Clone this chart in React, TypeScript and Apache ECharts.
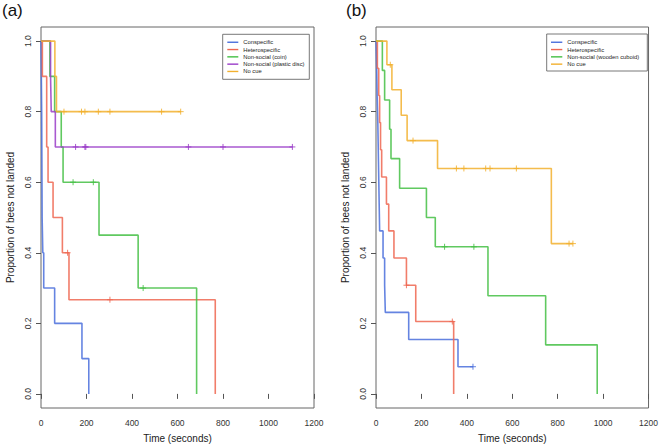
import React, { useEffect, useRef } from "react";
import * as echarts from "echarts";

// ---------- data ----------
const timeTicks = [0, 200, 400, 600, 800, 1000, 1200];
const proportionTicks = [0, 0.2, 0.4, 0.6, 0.8, 1.0];

const groupsA = ["Conspecific", "Heterospecific", "Non-social (coin)", "Non-social (plastic disc)", "No cue"];
const groupsB = ["Conspecific", "Heterospecific", "Non-social (wooden cuboid)", "No cue"];

// Kaplan-Meier steps: [time (s), proportion not landed after that time]
const aConspecific = [[0, 1], [3, 0.8], [5, 0.5], [8, 0.4], [12, 0.3], [60, 0.2], [180, 0.1], [210, 0]];
const aHeterospecific = [[0, 1], [6, 0.9], [25, 0.7], [31, 0.6], [53, 0.5], [94, 0.4], [123, 0.267], [766, 0]];
const aCoin = [[0, 1], [39, 0.9], [60, 0.8], [89, 0.7], [97, 0.6], [255, 0.45], [427, 0.3], [684, 0]];
const aDisc = [[0, 1], [42, 0.9], [45, 0.8], [63, 0.7], [1105, 0.7]];
const aNoCue = [[0, 1], [61, 0.9], [68, 0.8], [614, 0.8]];

const aConspecificCensored: number[] = [];
const aHeterospecificCensored = [117, 303];
const aCoinCensored = [141, 230, 449];
const aDiscCensored = [152, 193, 197, 648, 800, 1105];
const aNoCueCensored = [101, 178, 193, 252, 303, 530, 614];

const bConspecific = [[0, 1], [3, 0.923], [5, 0.846], [8, 0.769], [10, 0.692], [12, 0.615], [14, 0.538], [16, 0.462], [31, 0.385], [38, 0.308], [41, 0.231], [144, 0.154], [361, 0.077], [427, 0.077]];
const bHeterospecific = [[0, 1], [6, 0.923], [12, 0.846], [16, 0.769], [20, 0.692], [25, 0.615], [46, 0.538], [56, 0.462], [79, 0.385], [134, 0.308], [175, 0.205], [342, 0]];
const bCuboid = [[0, 1], [28, 0.917], [38, 0.833], [60, 0.75], [66, 0.667], [104, 0.583], [222, 0.5], [261, 0.417], [493, 0.278], [747, 0.139], [974, 0]];
const bNoCue = [[0, 1], [48, 0.933], [70, 0.862], [111, 0.79], [137, 0.718], [271, 0.639], [772, 0.426], [867, 0.426]];

const bConspecificCensored = [427];
const bHeterospecificCensored = [134, 336];
const bCuboidCensored = [302, 431];
const bNoCueCensored = [63, 163, 354, 387, 483, 502, 618, 850, 867];

// ---------- styles ----------
const COLORS: Record<string, string> = {
  "Conspecific": "#4a6fdc",
  "Heterospecific": "#ee6650",
  "Non-social (coin)": "#44c044",
  "Non-social (plastic disc)": "#9a3cc8",
  "Non-social (wooden cuboid)": "#44c044",
  "No cue": "#f2b02e",
};
const FONT = "Liberation Sans, Arial, Helvetica, sans-serif";

function levelAt(curve: number[][], t: number): number {
  let v = curve[0][1];
  for (const p of curve) {
    if (p[0] <= t) v = p[1];
  }
  return v;
}

function curveSeries(name: string, curve: number[][], censored: number[], idx: number) {
  const color = COLORS[name];
  return [
    {
      type: "line",
      name,
      data: curve,
      step: "end",
      xAxisIndex: idx,
      yAxisIndex: idx,
      showSymbol: false,
      symbol: "none",
      silent: true,
      lineStyle: { color, width: 1.6, opacity: 0.85 },
      itemStyle: { color },
    },
    {
      type: "scatter",
      name: name + " (censored) " + idx,
      data: censored.map((t) => [t, levelAt(curve, t)]),
      xAxisIndex: idx,
      yAxisIndex: idx,
      symbol: "path://M5 0L5 10M0 5L10 5",
      symbolSize: 6,
      silent: true,
      itemStyle: { color: "transparent", borderColor: color, borderWidth: 1, opacity: 0.85 },
    },
  ];
}

function xAxis(idx: number) {
  return {
    type: "value",
    gridIndex: idx,
    min: timeTicks[0],
    max: timeTicks[timeTicks.length - 1],
    interval: timeTicks[1] - timeTicks[0],
    name: "Time (seconds)",
    nameLocation: "middle",
    nameGap: 25,
    nameTextStyle: { fontFamily: FONT, fontSize: 10, color: "#222" },
    axisLine: { show: false },
    axisTick: { show: true, length: 5, lineStyle: { color: "#555" } },
    axisLabel: {
      fontFamily: FONT,
      fontSize: 8.5,
      color: "#333",
      margin: 10,
      showMinLabel: true,
      showMaxLabel: true,
      formatter: (v: number) => String(v),
    },
    splitLine: { show: false },
  };
}

function yAxis(idx: number) {
  return {
    type: "value",
    gridIndex: idx,
    min: -0.04,
    max: 1.04,
    name: "Proportion of bees not landed",
    nameLocation: "middle",
    nameRotate: 90,
    nameGap: 26,
    nameTextStyle: { fontFamily: FONT, fontSize: 10, color: "#222" },
    axisLine: { show: false },
    axisTick: { show: true, length: 5, lineStyle: { color: "#555" }, customValues: proportionTicks },
    axisLabel: {
      fontFamily: FONT,
      fontSize: 8.5,
      color: "#333",
      margin: 9,
      rotate: 90,
      customValues: proportionTicks,
      formatter: (v: number) => v.toFixed(1),
    },
    splitLine: { show: false },
  };
}

function legend(left: number, names: string[], itemWidth: number) {
  return {
    show: true,
    orient: "vertical",
    left,
    top: 38.6,
    padding: 0,
    itemGap: 0,
    itemWidth,
    itemHeight: 1.4,
    icon: "rect",
    selectedMode: false,
    data: names,
    textStyle: { fontFamily: FONT, fontSize: 5.8, lineHeight: 7.3, color: "#222", padding: 0 },
  };
}

export default function App() {
  const ref = useRef<HTMLDivElement>(null);

  useEffect(() => {
    if (!ref.current) return;
    const chart = echarts.init(ref.current, undefined, { renderer: "svg" });

    const curvesA: [string, number[][], number[]][] = [
      [groupsA[0], aConspecific, aConspecificCensored],
      [groupsA[1], aHeterospecific, aHeterospecificCensored],
      [groupsA[2], aCoin, aCoinCensored],
      [groupsA[3], aDisc, aDiscCensored],
      [groupsA[4], aNoCue, aNoCueCensored],
    ];
    const curvesB: [string, number[][], number[]][] = [
      [groupsB[0], bConspecific, bConspecificCensored],
      [groupsB[1], bHeterospecific, bHeterospecificCensored],
      [groupsB[2], bCuboid, bCuboidCensored],
      [groupsB[3], bNoCue, bNoCueCensored],
    ];

    const series: any[] = [];
    curvesA.forEach(([n, c, cz]) => series.push(...curveSeries(n, c, cz, 0)));
    curvesB.forEach(([n, c, cz]) => series.push(...curveSeries(n, c, cz, 1)));

    const gridStyle = { show: true, borderColor: "#666", borderWidth: 1, backgroundColor: "transparent" };

    chart.setOption({
      animation: false,
      backgroundColor: "#ffffff",
      grid: [
        { left: 41, top: 27, width: 273, height: 383, ...gridStyle },
        { left: 376, top: 27, width: 273, height: 383, ...gridStyle },
      ],
      xAxis: [xAxis(0), xAxis(1)],
      yAxis: [yAxis(0), yAxis(1)],
      legend: [legend(227.3, groupsA, 11), legend(551, groupsB, 11.3)],
      graphic: [
        { type: "text", left: 2, top: 2, style: { text: "(a)", fontFamily: FONT, fontSize: 17, fill: "#111" } },
        { type: "text", left: 346, top: 2, style: { text: "(b)", fontFamily: FONT, fontSize: 17, fill: "#111" } },
        { type: "rect", shape: { x: 222.7, y: 34.3, width: 86.6, height: 45 }, style: { fill: "transparent", stroke: "#555", lineWidth: 0.8 }, silent: true },
        { type: "rect", shape: { x: 546.7, y: 34, width: 100.6, height: 37 }, style: { fill: "transparent", stroke: "#555", lineWidth: 0.8 }, silent: true },
      ],
      series,
    });

    return () => chart.dispose();
  }, []);

  return <div ref={ref} style={{ width: 661, height: 448, position: "absolute", left: 0, top: 0 }} />;
}
